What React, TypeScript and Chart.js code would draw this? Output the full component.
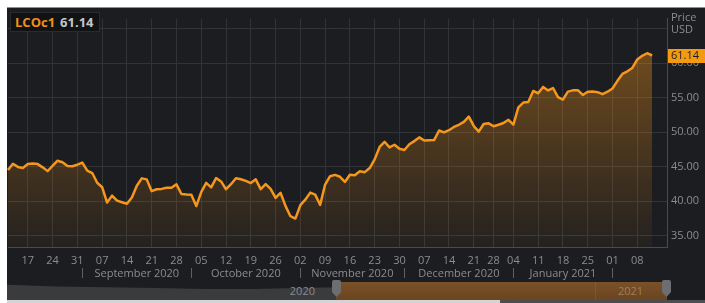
import React, { useEffect, useRef } from 'react';
import { Chart, registerables } from 'chart.js';

Chart.register(...registerables);

// Trading days shown (Brent front month, LCOc1)
const dates: string[] = [
  '2020-08-11', '2020-08-12', '2020-08-13', '2020-08-14', '2020-08-17', '2020-08-18', '2020-08-19', '2020-08-20', '2020-08-21',
  '2020-08-24', '2020-08-25', '2020-08-26', '2020-08-27', '2020-08-28', '2020-08-31',
  '2020-09-01', '2020-09-02', '2020-09-03', '2020-09-04', '2020-09-07', '2020-09-08', '2020-09-09', '2020-09-10', '2020-09-11',
  '2020-09-14', '2020-09-15', '2020-09-16', '2020-09-17', '2020-09-18', '2020-09-21', '2020-09-22', '2020-09-23', '2020-09-24',
  '2020-09-25', '2020-09-28', '2020-09-29', '2020-09-30',
  '2020-10-01', '2020-10-02', '2020-10-05', '2020-10-06', '2020-10-07', '2020-10-08', '2020-10-09', '2020-10-12', '2020-10-13',
  '2020-10-14', '2020-10-15', '2020-10-16', '2020-10-19', '2020-10-20', '2020-10-21', '2020-10-22', '2020-10-23', '2020-10-26',
  '2020-10-27', '2020-10-28', '2020-10-29', '2020-10-30',
  '2020-11-02', '2020-11-03', '2020-11-04', '2020-11-05', '2020-11-06', '2020-11-09', '2020-11-10', '2020-11-11', '2020-11-12',
  '2020-11-13', '2020-11-16', '2020-11-17', '2020-11-18', '2020-11-19', '2020-11-20', '2020-11-23', '2020-11-24', '2020-11-25',
  '2020-11-26', '2020-11-27', '2020-11-30',
  '2020-12-01', '2020-12-02', '2020-12-03', '2020-12-04', '2020-12-07', '2020-12-08', '2020-12-09', '2020-12-10', '2020-12-11',
  '2020-12-14', '2020-12-15', '2020-12-16', '2020-12-17', '2020-12-18', '2020-12-21', '2020-12-22', '2020-12-23', '2020-12-24',
  '2020-12-28', '2020-12-29', '2020-12-30', '2020-12-31',
  '2021-01-04', '2021-01-05', '2021-01-06', '2021-01-07', '2021-01-08', '2021-01-11', '2021-01-12', '2021-01-13', '2021-01-14',
  '2021-01-15', '2021-01-18', '2021-01-19', '2021-01-20', '2021-01-21', '2021-01-22', '2021-01-25', '2021-01-26', '2021-01-27',
  '2021-01-28', '2021-01-29',
  '2021-02-01', '2021-02-02', '2021-02-03', '2021-02-04', '2021-02-05', '2021-02-08', '2021-02-09', '2021-02-10', '2021-02-11',
];

// Empty trailing days (space right of the last point)
const padDates: string[] = ['2021-02-12', '2021-02-15', '2021-02-16'];

const prices: number[] = [
  44.5, 45.43, 44.96, 44.8, 45.37, 45.46, 45.37, 44.9, 44.35, 45.13, 45.86, 45.64, 45.09, 45.05, 45.28,
  45.58, 44.43, 44.07, 42.66, 42.01, 39.78, 40.79, 40.06, 39.83, 39.61, 40.53, 42.22, 43.3, 43.15, 41.44, 41.72,
  41.77, 41.94, 41.92, 42.43, 41.03, 40.95,
  40.93, 39.27, 41.29, 42.65, 41.99, 43.34, 42.85, 41.72, 42.45, 43.32, 43.16, 42.93, 42.62, 43.16, 41.73, 42.46,
  41.77, 40.46, 41.2, 39.3, 37.8, 37.46,
  39.4, 40.2, 41.23, 40.93, 39.45, 42.4, 43.61, 43.8, 43.53, 42.78, 43.82, 43.75, 44.34, 44.2, 44.8, 46.06,
  47.86, 48.61, 47.8, 48.18, 47.59,
  47.42, 48.25, 48.71, 49.25, 48.79, 48.84, 48.86, 50.25, 49.97, 50.29, 50.76, 51.08, 51.5, 52.26, 50.91, 50.08,
  51.2, 51.29, 50.86, 51.09, 51.34, 51.8,
  51.09, 53.6, 54.3, 54.38, 55.99, 55.66, 56.58, 56.06, 56.42, 55.1, 54.75, 55.9, 56.08, 56.1, 55.41, 55.88,
  55.91, 55.81, 55.53, 55.88,
  56.35, 57.46, 58.46, 58.84, 59.34, 60.56, 61.09, 61.47, 61.14,
];

const yTickValues: number[] = [35, 40, 45, 50, 55, 60, 65];
const yMin = 33.33;
const yMax = 66.5;

const monthStarts: string[] = ['2020-09-01', '2020-10-01', '2020-11-02', '2020-12-01', '2021-01-04', '2021-02-01'];
const monthLabels: string[] = ['September 2020', 'October 2020', 'November 2020', 'December 2020', 'January 2021'];

const seriesName = 'LCOc1';

const allLabels = [...dates, ...padDates];

const FONT = '"Open Sans", "DejaVu Sans", sans-serif';
const TEXT_GRAY = '#8b8c90';
const GRID = '#323337';
const BORDER = '#4a4b50';
const ORANGE = '#f5961d';
const BG = '#1c1d20';

const isMonday = (d: string) => new Date(d + 'T00:00:00Z').getUTCDay() === 1;

const extrasPlugin = {
  id: 'extras',
  afterDraw(chart: any) {
    const { ctx, chartArea } = chart;
    const x = chart.scales.x;
    const y = chart.scales.y;
    ctx.save();
    ctx.font = `11px ${FONT}`;
    ctx.fillStyle = TEXT_GRAY;
    ctx.strokeStyle = '#5e5f64';
    ctx.lineWidth = 1;
    const idx = (d: string) => allLabels.indexOf(d);
    // month separators
    monthStarts.forEach((d) => {
      const px = Math.round(x.getPixelForValue(idx(d))) + 0.5;
      ctx.beginPath();
      ctx.moveTo(px, chartArea.bottom + 21);
      ctx.lineTo(px, chartArea.bottom + 31);
      ctx.stroke();
    });
    // month labels
    ctx.textAlign = 'center';
    ctx.textBaseline = 'middle';
    monthLabels.forEach((lab, k) => {
      const a = x.getPixelForValue(idx(monthStarts[k]));
      const b = x.getPixelForValue(idx(monthStarts[k + 1]));
      ctx.fillText(lab, (a + b) / 2, chartArea.bottom + 26.5);
    });
    // axis title
    ctx.textAlign = 'left';
    ctx.fillText('Price', chartArea.right + 4, 10);
    ctx.fillText('USD', chartArea.right + 4, 22);
    // last value marker
    const last = prices[prices.length - 1];
    const py = y.getPixelForValue(last);
    ctx.fillStyle = '#f39a12';
    ctx.fillRect(chartArea.right + 1, Math.round(py - 7), chart.width - chartArea.right - 1, 14);
    ctx.fillStyle = '#1c1d20';
    ctx.fillText(last.toFixed(2), chartArea.right + 4, py + 0.5);
    ctx.restore();
  },
};

export default function App() {
  const ref = useRef<HTMLCanvasElement>(null);

  useEffect(() => {
    const chart = new Chart(ref.current as HTMLCanvasElement, {
      type: 'line',
      data: {
        labels: allLabels,
        datasets: [
          {
            label: seriesName,
            data: prices,
            borderColor: ORANGE,
            borderWidth: 2.5,
            borderJoinStyle: 'round',
            pointRadius: 0,
            tension: 0,
            fill: 'start',
            backgroundColor: (c: any) => {
              const ca = c.chart.chartArea;
              if (!ca) return 'rgba(0,0,0,0)';
              const g = c.chart.ctx.createLinearGradient(0, ca.top, 0, ca.bottom);
              g.addColorStop(0, 'rgba(245,150,29,0.44)');
              g.addColorStop(1, 'rgba(245,150,29,0.04)');
              return g;
            },
          },
        ],
      },
      options: {
        responsive: false,
        devicePixelRatio: 1,
        animation: false,
        layout: { padding: { left: 1, right: 0, top: 0, bottom: 0 } },
        plugins: { legend: { display: false }, tooltip: { enabled: false } },
        scales: {
          x: {
            type: 'category',
            offset: false,
            afterBuildTicks: (axis: any) => {
              axis.ticks = axis.ticks.filter(
                (t: any) => t.value < dates.length && isMonday(allLabels[t.value])
              );
            },
            afterFit: (axis: any) => {
              axis.height = 35;
            },
            grid: { color: GRID, drawTicks: false, lineWidth: 1 },
            border: { display: true, color: BORDER },
            ticks: {
              autoSkip: false,
              maxRotation: 0,
              minRotation: 0,
              padding: 7,
              color: TEXT_GRAY,
              font: { family: FONT, size: 11 },
              callback: (v: any) => allLabels[v as number].slice(8, 10),
            },
          },
          y: {
            position: 'right',
            min: yMin,
            max: yMax,
            afterBuildTicks: (axis: any) => {
              axis.ticks = yTickValues.map((v) => ({ value: v }));
            },
            afterFit: (axis: any) => {
              axis.width = 38;
            },
            grid: { color: GRID, drawTicks: false, lineWidth: 1 },
            border: { display: true, color: BORDER },
            ticks: {
              padding: 4,
              color: TEXT_GRAY,
              font: { family: FONT, size: 11 },
              callback: (v: any) => (v === 65 ? '' : Number(v).toFixed(2)),
            },
          },
        },
      },
      plugins: [extrasPlugin],
    } as any);
    return () => chart.destroy();
  }, []);

  const last = prices[prices.length - 1];

  return (
    <>
      <div
        style={{
          position: 'fixed',
          left: 7,
          top: 7,
          width: 698,
          height: 292,
          background: BG,
          borderTop: '1px solid #8f9094',
          overflow: 'hidden',
          fontFamily: FONT,
        }}
      >
        <canvas ref={ref} width={698} height={274} style={{ display: 'block', width: 698, height: 274 }} />
        {/* legend box */}
        <div
          style={{
            position: 'absolute',
            left: 3,
            top: 4,
            width: 88,
            height: 18,
            background: '#111214',
            border: '1px solid #2a2b2f',
            display: 'flex',
            alignItems: 'center',
            fontSize: 13,
            fontWeight: 700,
            lineHeight: '18px',
          }}
        >
          <span style={{ color: '#ec901a', marginLeft: 4 }}>{seriesName}</span>
          <span style={{ color: '#c4c5c8', marginLeft: 5 }}>{last.toFixed(2)}</span>
        </div>
        {/* navigator */}
        <div
          style={{
            position: 'absolute',
            left: 0,
            top: 275,
            width: 330,
            height: 17,
            background: '#3a3b3d',
            clipPath: 'polygon(0 10%, 15% 20%, 30% 25%, 45% 30%, 60% 35%, 75% 35%, 90% 30%, 100% 25%, 100% 100%, 0 100%)',
          }}
        />
        <div
          style={{
            position: 'absolute',
            left: 270,
            top: 276,
            width: 38,
            textAlign: 'right',
            fontSize: 11,
            lineHeight: '14px',
            color: TEXT_GRAY,
          }}
        >
          2020
        </div>
        <div
          style={{
            position: 'absolute',
            left: 329,
            top: 274,
            width: 331,
            height: 18,
            background: 'linear-gradient(#7a5128, #6a4521)',
          }}
        />
        <div style={{ position: 'absolute', left: 588, top: 274, width: 1, height: 18, background: 'rgba(255,255,255,0.08)' }} />
        <div
          style={{
            position: 'absolute',
            left: 611,
            top: 276,
            fontSize: 11,
            lineHeight: '14px',
            color: '#a07d55',
          }}
        >
          2021
        </div>
        {[325, 655].map((l) => (
          <div
            key={l}
            style={{
              position: 'absolute',
              left: l,
              top: 272,
              width: 9,
              height: 17,
              background: '#6d6e72',
              borderRadius: '2px 2px 0 0',
              clipPath: 'polygon(0 0, 100% 0, 100% 70%, 50% 100%, 0 70%)',
            }}
          />
        ))}
      </div>
      <div style={{ position: 'fixed', left: 7, top: 300, width: 493, height: 3, background: '#d4d4d6' }} />
      <div style={{ position: 'fixed', left: 500, top: 300, width: 205, height: 3, background: '#4d4e50' }} />
    </>
  );
}
